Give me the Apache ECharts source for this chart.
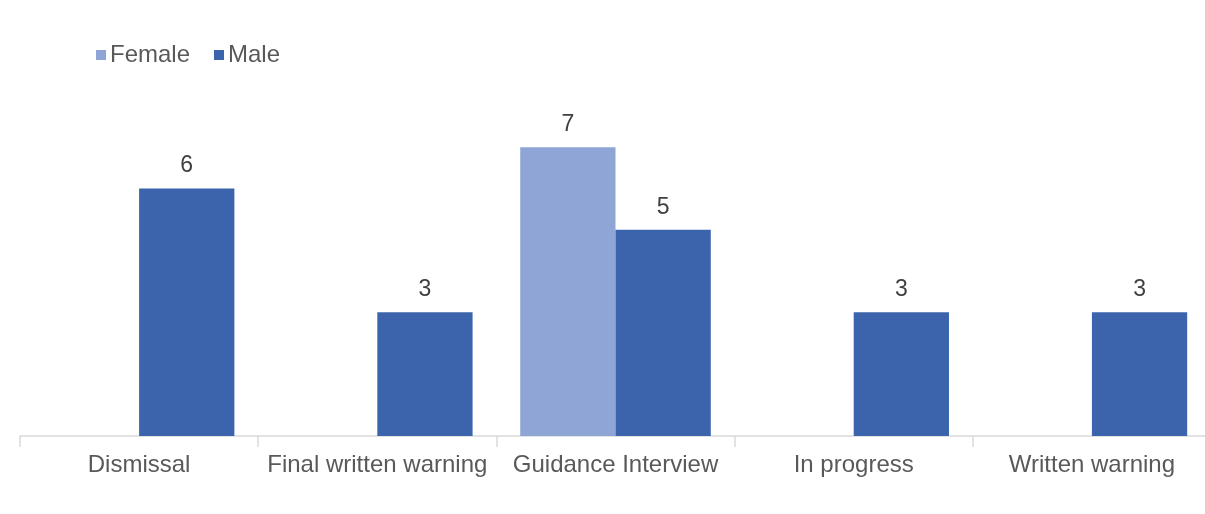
<!DOCTYPE html>
<html>
<head>
<meta charset="utf-8">
<script src="https://cdn.jsdelivr.net/npm/echarts@6/dist/echarts.min.js"></script>
<style>
  html, body { margin: 0; padding: 0; background: #fff; }
  #chart { width: 1205px; height: 514px; }
</style>
</head>
<body>
<div id="chart"></div>
<script>
const categories = ['Dismissal', 'Final written warning', 'Guidance Interview', 'In progress', 'Written warning'];
const female = [null, null, 7, null, null];
const male = [6, 3, 5, 3, 3];

const chart = echarts.init(document.getElementById('chart'));

const labelStyle = {
  show: true,
  position: 'top',
  distance: 11,
  color: '#404040',
  fontSize: 23,
  fontFamily: 'Liberation Sans, Arial, sans-serif',
};

chart.setOption({
  animation: false,
  textStyle: { fontFamily: 'Liberation Sans, Arial, sans-serif' },
  legend: {
    left: 91,
    top: 38,
    itemWidth: 10,
    itemHeight: 10,
    itemGap: 24,
    icon: 'rect',
    textStyle: { color: '#595959', fontSize: 24, padding: [0, 0, 0, -1] },
    data: ['Female', 'Male'],
  },
  grid: {
    left: 20,
    top: 106,
    width: 1191,
    height: 330,
    containLabel: false,
    outerBoundsMode: 'none',
  },
  xAxis: {
    type: 'category',
    data: categories,
    axisLine: { lineStyle: { color: '#d9d9d9', width: 1.5 } },
    axisTick: { show: true, length: 11, inside: false, lineStyle: { color: '#d9d9d9', width: 1.5 } },
    axisLabel: { color: '#595959', fontSize: 24, margin: 17, interval: 0 },
  },
  yAxis: {
    type: 'value',
    min: 0,
    max: 8,
    show: false,
    splitLine: { show: false },
  },
  series: [
    {
      name: 'Female',
      type: 'bar',
      data: female,
      barGap: '0%',
      barCategoryGap: '20%',
      itemStyle: { color: '#8fa5d6' },
      label: labelStyle,
    },
    {
      name: 'Male',
      type: 'bar',
      data: male,
      barGap: '0%',
      barCategoryGap: '20%',
      itemStyle: { color: '#3b64ad' },
      label: labelStyle,
    },
  ],
});
</script>
</body>
</html>
